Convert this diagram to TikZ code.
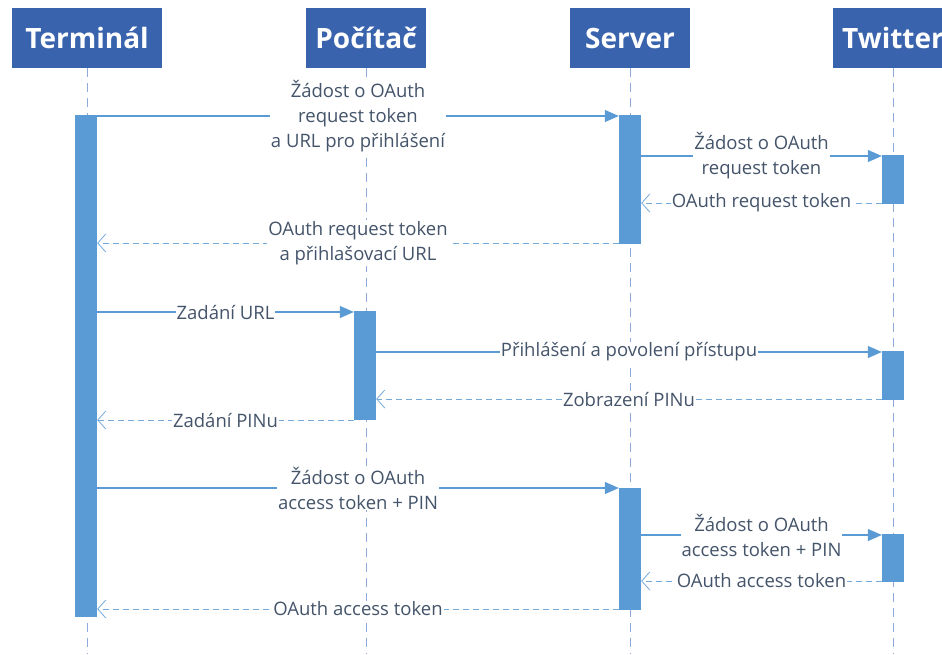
\documentclass[tikz,border=0pt]{standalone}
\usepackage{fontspec}
\setmainfont{Open Sans}
\usetikzlibrary{arrows.meta}
\definecolor{hdr}{HTML}{3A63AE}
\definecolor{barc}{HTML}{5B9BD5}
\definecolor{life}{HTML}{8FAADC}
\definecolor{txt}{HTML}{44546A}
\begin{document}
\begin{tikzpicture}[x=1pt,y=-1pt,
 hdrbox/.style={fill=hdr, text=white, minimum width=120pt, minimum height=60pt, font=\fontsize{28}{30}\selectfont\bfseries, inner sep=0pt},
 actbar/.style={fill=barc, minimum width=22pt, inner sep=0pt, anchor=north},
 lifeline/.style={draw=life, line width=0.8pt, dash pattern=on 9pt off 6pt},
 msg/.style={draw=barc, line width=1.2pt, -{Triangle[length=14pt,width=12pt]}},
 ret/.style={draw=barc!85, line width=0.9pt, dash pattern=on 6pt off 4pt, -{Straight Barb[length=8pt,width=18pt,line width=0.8pt]}},
 lbl/.style={fill=white, text=txt, align=center, font=\fontsize{18.5}{25}\selectfont, inner sep=1pt}]
\clip (0,0) rectangle (942,654);
% headers
\node[hdrbox, minimum width=150pt, anchor=north] (ht) at (87,8) {Terminál};
\node[hdrbox, anchor=north] (hp) at (366,8) {Počítač};
\node[hdrbox, anchor=north] (hs) at (630,8) {Server};
\node[hdrbox, anchor=north] (hw) at (893,8) {Twitter};
% lifelines
\foreach \h in {ht,hp,hs,hw} \draw[lifeline] (\h.south) -- (\h.south |- 0,654);
% activation bars
\node[actbar, minimum height=502pt] (tb) at (86,115) {};
\node[actbar, minimum height=129pt] (sb1) at (630,115) {};
\node[actbar, minimum height=49pt] (wb1) at (893,155) {};
\node[actbar, minimum height=109pt] (pb) at (365,311) {};
\node[actbar, minimum height=49pt] (wb2) at (893,351) {};
\node[actbar, minimum height=122pt] (sb2) at (630,488) {};
\node[actbar, minimum height=48pt] (wb3) at (893,534) {};
% message heights
\coordinate (m1) at (0,116);
\coordinate (m2) at (0,156);
\coordinate (m3) at (0,203);
\coordinate (m4) at (0,243);
\coordinate (m5) at (0,312);
\coordinate (m6) at (0,352);
\coordinate (m7) at (0,399);
\coordinate (m8) at (0,420);
\coordinate (m9) at (0,488);
\coordinate (m10) at (0,535);
\coordinate (m11) at (0,581);
\coordinate (m12) at (0,609);
% messages
\draw[msg] (tb.east |- m1) -- node[lbl]{Žádost o OAuth\\request token\\a URL pro přihlášení} (sb1.west |- m1);
\draw[msg] (sb1.east |- m2) -- node[lbl]{Žádost o OAuth\\request token} (wb1.west |- m2);
\draw[ret] (wb1.west |- m3) -- node[lbl]{OAuth request token} (sb1.east |- m3);
\draw[ret] (sb1.west |- m4) -- node[lbl]{OAuth request token\\a přihlašovací URL} (tb.east |- m4);
\draw[msg] (tb.east |- m5) -- node[lbl]{Zadání URL} (pb.west |- m5);
\draw[msg] (pb.east |- m6) -- node[lbl]{Přihlášení a povolení přístupu} (wb2.west |- m6);
\draw[ret] (wb2.west |- m7) -- node[lbl]{Zobrazení PINu} (pb.east |- m7);
\draw[ret] (pb.west |- m8) -- node[lbl]{Zadání PINu} (tb.east |- m8);
\draw[msg] (tb.east |- m9) -- node[lbl]{Žádost o OAuth\\access token + PIN} (sb2.west |- m9);
\draw[msg] (sb2.east |- m10) -- node[lbl]{Žádost o OAuth\\access token + PIN} (wb3.west |- m10);
\draw[ret] (wb3.west |- m11) -- node[lbl]{OAuth access token} (sb2.east |- m11);
\draw[ret] (sb2.west |- m12) -- node[lbl]{OAuth access token} (tb.east |- m12);
\end{tikzpicture}
\end{document}
